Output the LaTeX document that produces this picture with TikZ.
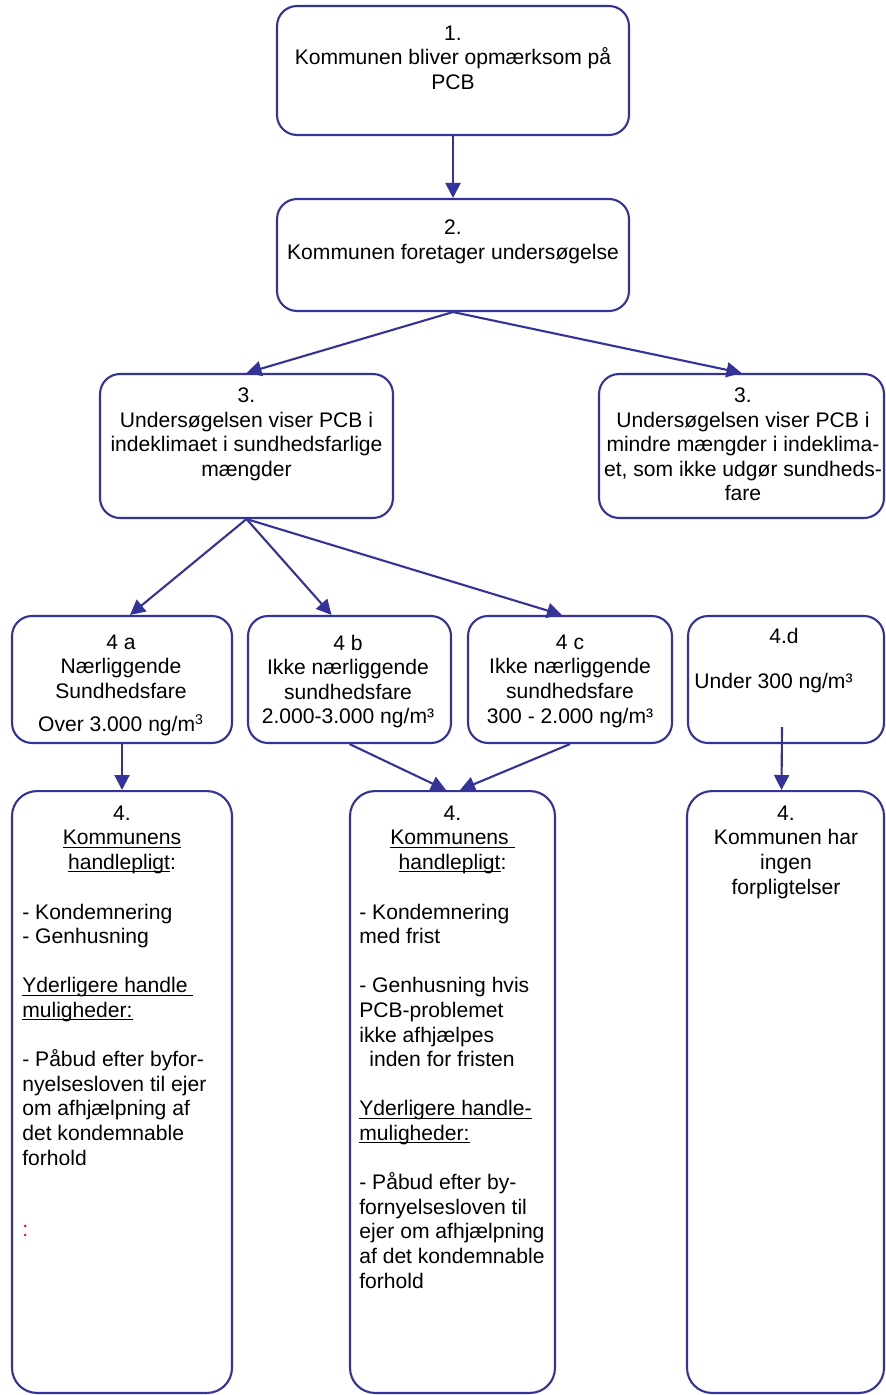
\documentclass[tikz,border=0pt]{standalone}
\usepackage{fontspec}
\setmainfont{Liberation Sans}
\usetikzlibrary{arrows.meta,positioning}
\definecolor{boxblue}{RGB}{51,51,153}
\newcommand{\undl}[1]{\sbox0{#1}\rlap{\rule[-1.5pt]{\wd0}{0.6pt}}\usebox0}

\begin{document}
\begin{tikzpicture}[x=0.02cm, y=-0.02cm,
    stepbox/.style={draw=boxblue, line width=1.2pt, rounded corners=0.4cm, inner sep=0pt},
    tallbox/.style={stepbox, rounded corners=0.5cm, minimum height=12.04cm},
    txt/.style={inner sep=0pt, align=center, font=\fontsize{12}{14}\selectfont},
    arrow/.style={draw=boxblue, line width=1.2pt, -{Triangle[length=0.3cm,width=0.3cm]}}]

    \useasboundingbox (0,0) rectangle (885,1395);

    % Draw step 1 and 2
    \node[stepbox, minimum width=7.04cm, minimum height=2.58cm] (step1) at (453,70.5) {};
    \node[txt, anchor=north] (step1txt) at (453,25.5) {1.\\Kommunen bliver opmærksom på\\PCB};
    \node[stepbox, minimum width=7.04cm, minimum height=2.24cm] (step2) at (453,255) {};
    \node[txt, anchor=north] (step2txt) at (453,219.5) {2.\\Kommunen foretager undersøgelse};

    % Draw the two results
    \node[stepbox, minimum width=5.86cm, minimum height=2.88cm] (step3a) at (246.5,446) {};
    \node[txt, anchor=north] (step3atxt) at (246.5,387.5) {3.\\Undersøgelsen viser PCB i\\indeklimaet i sundhedsfarlige\\mængder};
    \node[stepbox, minimum width=5.7cm, minimum height=2.88cm] (step3b) at (741.5,446) {};
    \node[txt, anchor=north] (step3btxt) at (743,387.5) {3.\\Undersøgelsen viser PCB i\\mindre mængder i indeklima-\\et, som ikke udgør sundheds-\\fare};

    % Draw the levels
    \node[stepbox, minimum width=4.4cm, minimum height=2.54cm] (lvl4a) at (122,679.5) {};
    \node[txt, anchor=north] (lvl4atxt) at (121,634.5) {4 a\\Nærliggende\\Sundhedsfare\\[5pt]Over 3.000 ng/m\textsuperscript{3}};
    \node[stepbox, minimum width=4.06cm, minimum height=2.54cm] (lvl4b) at (349.5,679.5) {};
    \node[txt, anchor=north] (lvl4btxt) at (348,634.5) {4 b\\Ikke nærliggende\\sundhedsfare\\2.000-3.000 ng/m³};
    \node[stepbox, minimum width=4.08cm, minimum height=2.54cm] (lvl4c) at (570,679.5) {};
    \node[txt, anchor=north] (lvl4ctxt) at (570,634.5) {4 c\\Ikke nærliggende\\sundhedsfare\\300 - 2.000 ng/m³};
    \node[stepbox, minimum width=3.92cm, minimum height=2.54cm] (lvl4d) at (786,679.5) {};
    \node[txt, anchor=north] (lvl4dtxt) at (784,627.5) {4.d};
    \node[txt, anchor=west] (lvl4dval) at (694,683) {Under 300 ng/m³};

    % Draw the duties
    \node[tallbox, minimum width=4.4cm] (duty4a) at (122,1092) {};
    \node[txt, anchor=north] (duty4ahead) at (122,805.5) {4.\\\undl{Kommunens}\\\undl{handlepligt}:};
    \node[txt, align=left, anchor=north west] (duty4abody) at (22,903.5) {- Kondemnering\\- Genhusning\\[14pt]\undl{Yderligere handle\ }\\\undl{muligheder:}\\[14pt]- Påbud efter byfor-\\nyelsesloven til ejer\\om afhjælpning af\\det kondemnable\\forhold};
    \node[txt, anchor=west, text=red] (duty4anote) at (22,1231) {:};

    \node[tallbox, minimum width=4.1cm] (duty4b) at (452.5,1092) {};
    \node[txt, anchor=north] (duty4bhead) at (452.5,805.5) {4.\\\undl{Kommunens\ }\\\undl{handlepligt}:};
    \node[txt, align=left, anchor=north west] (duty4bbody) at (359,903.5) {- Kondemnering\\med frist\\[14pt]- Genhusning hvis\\PCB-problemet\\ikke afhjælpes\\\hspace*{0.2cm}inden for fristen\\[14pt]\undl{Yderligere handle-}\\\undl{muligheder:}\\[14pt]- Påbud efter by-\\fornyelsesloven til\\ejer om afhjælpning\\af det kondemnable\\forhold};

    \node[tallbox, minimum width=3.94cm] (duty4d) at (785.5,1092) {};
    \node[txt, anchor=north] (duty4dhead) at (786,805.5) {4.\\Kommunen har\\ingen\\forpligtelser};

    % Draw connections
    \draw[arrow] (step1.south) -- (step2.north);
    \draw[arrow] (step2.south) -- (step3a.north);
    \draw[arrow] (step2.south) -- (step3b.north);
    \draw[arrow] (step3a.south) -- ([xshift=0.16cm]lvl4a.north);
    \draw[arrow] (step3a.south) -- ([xshift=-0.36cm]lvl4b.north);
    \draw[arrow] (step3a.south) -- ([xshift=-0.16cm]lvl4c.north);
    \draw[arrow] (lvl4a.south) -- (duty4a.north);
    \draw[arrow] (lvl4b.south) -- ([xshift=-0.13cm]duty4b.north);
    \draw[arrow] (lvl4c.south) -- ([xshift=0.15cm]duty4b.north);
    \draw[arrow] ([xshift=-0.08cm,yshift=0.34cm]lvl4d.south) -- ([xshift=-0.08cm]duty4d.north);

\end{tikzpicture}
\end{document}
